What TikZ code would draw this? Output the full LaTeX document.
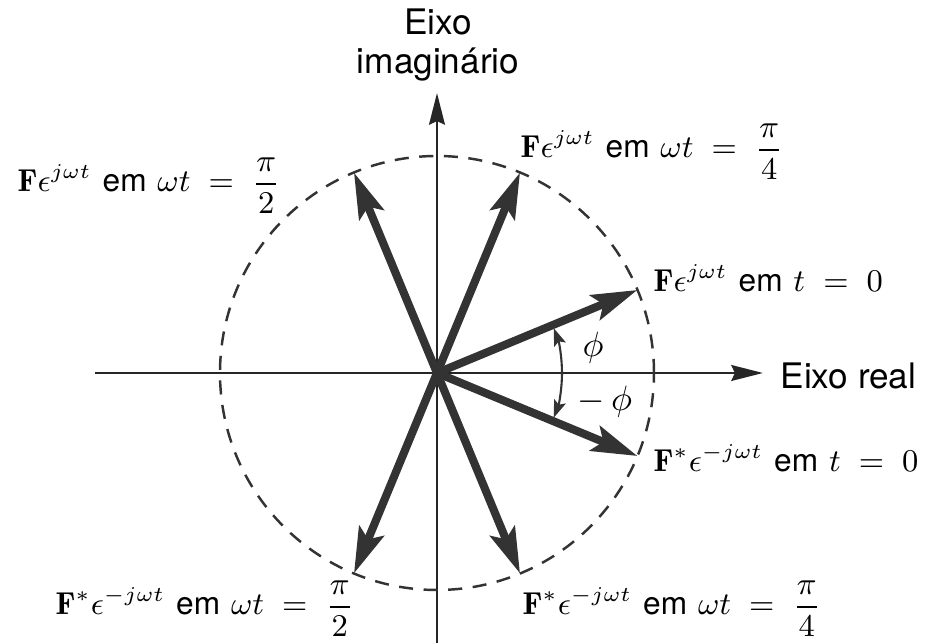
\documentclass[tikz,border=0pt]{standalone}
\usepackage{amsmath,amssymb}
\usepackage{fontspec}
\setsansfont{TeX Gyre Heros}
\usetikzlibrary{arrows.meta}
\begin{document}
\begin{tikzpicture}[x=0.01cm,y=0.01cm,every node/.style={font=\fontsize{9}{11}\selectfont},
  vec/.style={line width=2.3pt,draw=black!80,-{Stealth[length=13pt,width=7.5pt,inset=2.5pt]}},
  axis/.style={line width=0.7pt,draw=black!85,-{Stealth[length=9pt,width=4.5pt,inset=1pt]}},
  angarrow/.style={line width=0.6pt,draw=black!80,-{Stealth[length=5pt,width=3.5pt,inset=1pt]}},
  lbl/.style={anchor=base west,inner sep=0pt}]
\useasboundingbox (-437,-270) rectangle (496,373);
% axes
\coordinate (o) at (0,0);
\coordinate (xl) at (-342,0);
\coordinate (xr) at (326,0);
\coordinate (yb) at (0,-270);
\coordinate (yt) at (0,280);
\draw[axis] (xl) -- (xr);
\draw[axis] (yb) -- (yt);
\node[anchor=west,inner sep=0pt,font=\fontsize{10}{11}\selectfont\sffamily] (xlab) at (343,-3) {Eixo real};
\node[align=center,inner sep=0pt,font=\fontsize{10}{11}\selectfont\sffamily] (ylab) at (1,328) {Eixo\\imagin\'ario};
% circle
\draw[line width=0.7pt,black!80,dash pattern=on 4pt off 3pt] (o) circle[radius=217];
% phasors
\coordinate (p0) at (22.5:217);
\coordinate (p1) at (67.5:217);
\coordinate (p2) at (112.5:217);
\coordinate (q0) at (-22.5:217);
\coordinate (q1) at (-67.5:217);
\coordinate (q2) at (-112.5:217);
\draw[vec] (o) -- (p0);
\draw[vec] (o) -- (p1);
\draw[vec] (o) -- (p2);
\draw[vec] (o) -- (q0);
\draw[vec] (o) -- (q1);
\draw[vec] (o) -- (q2);
% angles
\draw[angarrow] (125,0) arc[start angle=0,end angle=21,radius=125];
\draw[angarrow] (125,0) arc[start angle=0,end angle=-21,radius=125];
\node[font=\fontsize{10}{11}\selectfont] (phi) at (156,25) {$\phi$};
\node[font=\fontsize{10}{11}\selectfont] (mphi) at (168,-29) {$-\,\phi$};
% labels
\node[lbl] (lp0) at (216,81) {$\mathbf{F}\epsilon^{j\omega t}$ \textsf{em} $t \;=\; 0$};
\node[lbl] (lp1) at (83,215) {$\mathbf{F}\epsilon^{j\omega t}$ \textsf{em} $\omega t \;=\; \dfrac{\pi}{4}$};
\node[lbl] (lp2) at (-420,181) {$\mathbf{F}\epsilon^{j\omega t}$ \textsf{em} $\omega t \;=\; \dfrac{\pi}{2}$};
\node[lbl] (lq0) at (216,-99) {$\mathbf{F}^{*}\epsilon^{-j\omega t}$ \textsf{em} $t \;=\; 0$};
\node[lbl] (lq1) at (85,-242) {$\mathbf{F}^{*}\epsilon^{-j\omega t}$ \textsf{em} $\omega t \;=\; \dfrac{\pi}{4}$};
\node[lbl] (lq2) at (-382,-242) {$\mathbf{F}^{*}\epsilon^{-j\omega t}$ \textsf{em} $\omega t \;=\; \dfrac{\pi}{2}$};
\end{tikzpicture}
\end{document}
